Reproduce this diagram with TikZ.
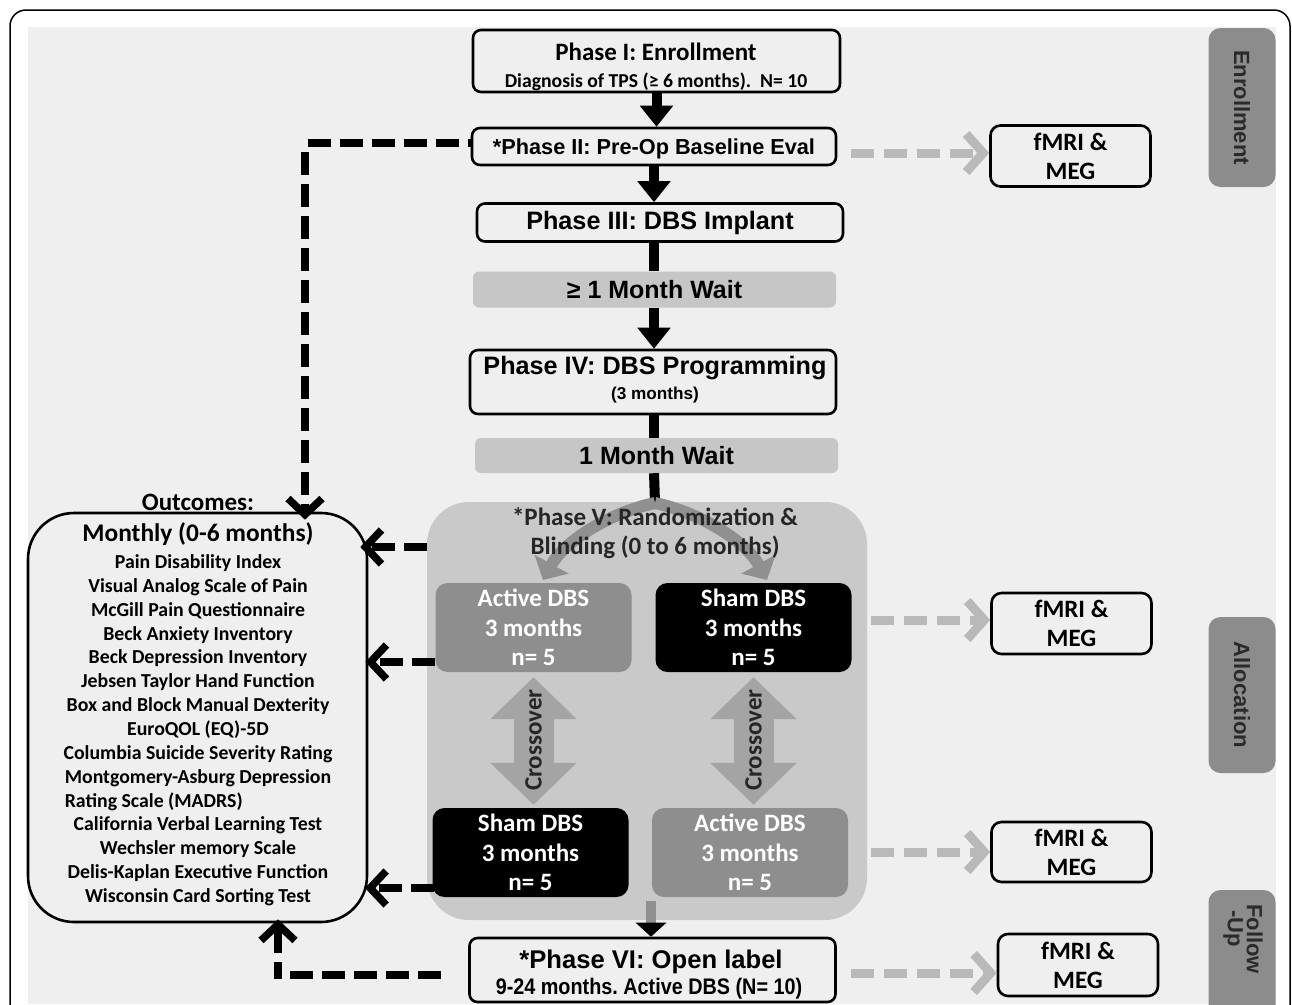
\documentclass[tikz,border=0pt]{standalone}
\usepackage{fontspec}
\usepackage{calc}
\setmainfont{Liberation Sans}
\newfontfamily\calfont{Carlito}
\newfontfamily\narrowfont{Liberation Sans}[FakeStretch=0.88]
\usetikzlibrary{arrows.meta,calc}
\newcommand\fsz[1]{\fontsize{#1}{#1}\selectfont}
\definecolor{bgc}{HTML}{EFEFEF}
\definecolor{panelc}{HTML}{C9C9C9}
\definecolor{waitc}{HTML}{C6C6C6}
\definecolor{actc}{HTML}{8E8E8E}
\definecolor{labc}{HTML}{8C8C8C}
\definecolor{labtext}{HTML}{2A2A2A}
\definecolor{gdashc}{HTML}{B9B9B9}
\definecolor{forkc}{HTML}{909090}
\definecolor{xoverc}{HTML}{A4A4A4}
\frenchspacing
\begin{document}
\begin{tikzpicture}[x=1pt,y=-1pt,
  phasebox/.style={draw=black, line width=2.6pt, rounded corners=8pt, inner sep=0pt},
  waitbox/.style={fill=waitc, rounded corners=6pt, inner sep=0pt, minimum width=363pt, minimum height=36pt, font=\bfseries\fsz{25}},
  armA/.style={fill=actc, rounded corners=12pt, inner sep=0pt, minimum width=196pt, minimum height=89pt, text=white, align=center, font=\calfont\bfseries\fontsize{25}{29.5}\selectfont},
  armS/.style={armA, fill=black},
  fbox/.style={draw=black, line width=2.6pt, rounded corners=10pt, inner sep=0pt, minimum width=160pt, minimum height=61pt, align=center, font=\calfont\bfseries\fontsize{25}{29}\selectfont},
  labbox/.style={fill=labc, rounded corners=12pt, inner sep=0pt, minimum width=67pt},
  labtxt/.style={font=\bfseries\fontsize{22}{19}\selectfont, text=labtext, rotate=-90, align=left},
  flow/.style={line width=10pt, -{Triangle[length=21pt,width=32pt]}},
  flowline/.style={line width=10pt},
  bdash/.style={line width=7.5pt, dash pattern=on 23pt off 9pt, -{Straight Barb[length=16pt,width=34pt]}},
  gdash/.style={draw=gdashc, line width=9pt, dash pattern=on 23pt off 10pt, -{Straight Barb[length=17pt,width=38pt]}},
  fork/.style={draw=forkc, line width=12pt, -{Triangle[length=18pt,width=38pt]}},
  xover/.style={draw=xoverc, line width=40pt, {Triangle[length=42pt,width=84pt]}-{Triangle[length=42pt,width=84pt]}},
  xtxt/.style={font=\calfont\bfseries\fsz{25}, text=black!85, rotate=90}
]
% page and frame
\fill[white] (0,0) rectangle (1292,1004);
\useasboundingbox (0,0) rectangle (1292,1004);
\draw[line width=1.5pt, rounded corners=16pt] (10,10) rectangle (1290,1060);
\fill[bgc] (28,27) rectangle (1276,1004);

% right side labels
\node[labbox, minimum height=159pt] (rl1) at (1242,107.5) {};
\node[labtxt] (rt1) at (rl1.center) {Enrollment};
\node[labbox, minimum height=156pt] (rl2) at (1242,695) {};
\node[labtxt] (rt2) at (rl2.center) {Allocation};
\node[labbox, minimum height=150pt] (rl3) at (1242,965) {};
\node[labtxt] (rt3) at (1243,939) {Follow\\\hspace*{6pt}-Up};

% phase V panel
\node[fill=panelc, rounded corners=42pt, minimum width=440pt, minimum height=418pt, inner sep=0pt] (pv) at (647,711) {};

% main boxes
\node[phasebox, minimum width=367pt, minimum height=62pt] (p1) at (656.5,61) {};
\node[font=\calfont\bfseries\fsz{25}] (p1a) at (656,51.5) {Phase I: Enrollment};
\node[font=\calfont\bfseries\fsz{19.7}] (p1b) at (656,82) {Diagnosis of TPS (≥ 6 months).\ \ N= 10};

\node[phasebox, minimum width=364pt, minimum height=37pt] (p2) at (654,146.5) {};
\node[font=\bfseries\fsz{21.7}] (p2a) at (654,148.5) {*Phase II: Pre-Op Baseline Eval};
\node[phasebox, minimum width=366pt, minimum height=38pt, font=\bfseries\fsz{25.2}] (p3) at (660,222.5) {Phase III: DBS Implant};
\node[waitbox] (w1) at (654.5,289.5) {≥ 1 Month Wait};
\node[phasebox, minimum width=366pt, minimum height=64pt] (p4) at (653,382) {};
\node[font=\bfseries\fsz{25.2}] (p4a) at (655,368.5) {Phase IV: DBS Programming};
\node[font=\bfseries\fsz{17.2}] (p4b) at (655,395.5) {(3 months)};
\node[waitbox, minimum width=363pt, minimum height=35pt] (w2) at (656.5,455.5) {1 Month Wait};

\node[phasebox, minimum width=366pt, minimum height=64pt] (p6) at (652.5,970) {};
\node[font=\bfseries\fsz{25.6}] (p6a) at (651,962) {*Phase VI: Open label};
\node[font=\narrowfont\bfseries\fsz{22.5}] (p6b) at (649,988.5) {9-24 months. Active DBS (N= 10)};

% flow arrows
\draw[flow] (p1.south) -- (p1.south |- p2.north);
\draw[flow] (p2.south) -- (p2.south |- p3.north);
\draw[flowline] (p2.south |- p3.south) -- (p2.south |- w1.north);
\draw[flow] (p2.south |- w1.south) -- (p2.south |- p4.north);
\draw[flowline] (p2.south |- p4.south) -- (p2.south |- w2.north);
\coordinate (fork) at (655,503);
\draw[flowline] (p2.south |- w2.south) -- (fork);

% fork arrows and panel title
\coordinate (fl) at (543,580);
\coordinate (fr) at (767,580);
\draw[fork] (fork) .. controls (612,512) and (565,540) .. (fl);
\draw[fork] (fork) .. controls (698,512) and (745,540) .. (fr);
\node[font=\calfont\bfseries\fontsize{25}{29}\selectfont, align=center, text=black!85] (pvt) at (655,533) {*Phase V: Randomization \&\\Blinding (0 to 6 months)};

% arms
\node[armA] (ad1) at (533.5,627.5) {Active DBS\\3 months\\n= 5};
\node[armS] (sd1) at (753.5,627.5) {Sham DBS\\3 months\\n= 5};
\node[armS] (sd2) at (530.5,852.5) {Sham DBS\\3 months\\n= 5};
\node[armA] (ad2) at (750,852.5) {Active DBS\\3 months\\n= 5};

\draw[xover, shorten <=5pt, shorten >=3pt] (ad1.south) -- (ad1.south |- sd2.north);
\draw[xover, shorten <=5pt, shorten >=3pt] (sd1.south) -- (sd1.south |- ad2.north);
\node[xtxt] (xt1) at ($(ad1.south)!0.5!(ad1.south |- sd2.north)$) {Crossover};
\node[xtxt] (xt2) at ($(sd1.south)!0.5!(sd1.south |- ad2.north)$) {Crossover};

% panel to phase VI
\coordinate (pvb) at (651,901);
\draw[line width=10pt, draw=forkc, -{Triangle[length=14pt,width=30pt,color=black]}] (pvb) -- (pvb |- p6.north);

% outcomes
\node[font=\calfont\bfseries\fsz{25}] (oh) at (198,502) {Outcomes:};
\node[draw=black, line width=2.6pt, rounded corners=46pt, minimum width=339pt, minimum height=409pt, inner sep=0pt] (out) at (197.5,717.5) {};
\node[font=\calfont\bfseries\fsz{25.4}] (om) at (198,534) {Monthly (0-6 months)};
\node[font=\calfont\bfseries\fontsize{19.8}{23.86}\selectfont, align=center, anchor=north] (ol) at (198,551) {Pain Disability Index\\
Visual Analog Scale of Pain\\
McGill Pain Questionnaire\\
Beck Anxiety Inventory\\
Beck Depression Inventory\\
Jebsen Taylor Hand Function\\
Box and Block Manual Dexterity\\
EuroQOL (EQ)-5D\\
Columbia Suicide Severity Rating\\
Montgomery-Asburg Depression\\
\makebox[\widthof{Montgomery-Asburg Depression}][l]{Rating Scale (MADRS)}\\
California Verbal Learning Test\\
Wechsler memory Scale\\
Delis-Kaplan Executive Function\\
Wisconsin Card Sorting Test};

% black dashed connectors
\coordinate (dl) at (305,0);
\coordinate (dr) at (278,0);
\coordinate (y547) at (0,547);
\coordinate (y662) at (0,662);
\coordinate (y888) at (0,888);
\coordinate (y975) at (0,975);
\draw[bdash, -] (308,143) -- (p2.west |- 0,143);
\draw[bdash, shorten >=-8pt] (dl |- 0,152) -- (dl |- out.north);
\draw[bdash, shorten >=-8pt] (pv.west |- y547) -- (out.east |- y547);
\draw[bdash, shorten >=-3pt] (ad1.west |- y662) -- (out.east |- y662);
\draw[bdash, shorten <=-2pt] (sd2.west |- y888) -- (365,888);
\draw[bdash, -, shorten >=22pt] (290,975) -- (p6.west |- y975);
\draw[line width=7.5pt] (dr |- 0,978.75) -- (dr |- 0,962) -- (dr |- 0,962);
\draw[bdash, shorten >=-4pt] (dr |- 0,953) -- (dr |- out.south);

% fMRI & MEG boxes
\node[fbox] (f1) at (1070.5,156) {fMRI \&\\MEG};
\node[fbox] (f2) at (1071.5,623.5) {fMRI \&\\MEG};
\node[fbox, minimum height=60pt] (f3) at (1071.5,852) {fMRI \&\\MEG};
\node[fbox, minimum height=62pt] (f4) at (1078,965) {fMRI \&\\MEG};

% grey dashed connectors
\draw[gdash, shorten <=14pt] (p2.east |- 0,153) -- (f1.west |- 0,153);
\draw[gdash, shorten <=4pt] (pv.east |- 0,620) -- (f2.west |- 0,620);
\draw[gdash, shorten <=4pt] (pv.east |- 0,852) -- (f3.west |- 0,852);
\draw[gdash, shorten <=14pt] (p6.east |- 0,973) -- (f4.west |- 0,973);
\end{tikzpicture}
\end{document}
